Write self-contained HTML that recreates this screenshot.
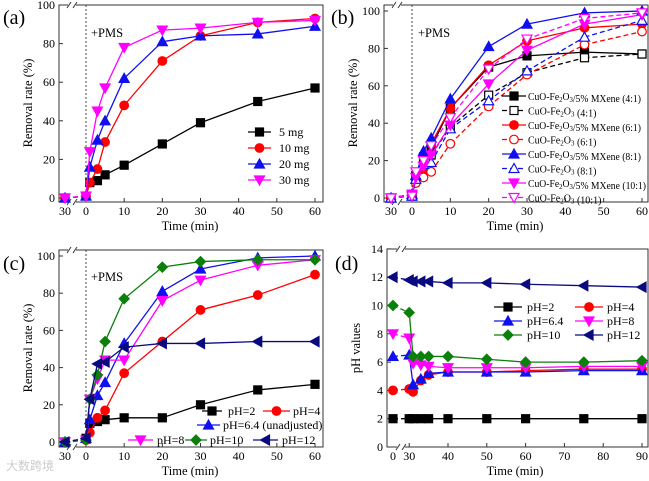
<!DOCTYPE html>
<html><head><meta charset="utf-8">
<style>
html,body{margin:0;padding:0;background:#fff;}
svg{display:block;font-family:"Liberation Serif",serif;}
</style></head>
<body>
<svg id="fig" width="649" height="481" viewBox="0 0 649 481" xmlns="http://www.w3.org/2000/svg"></svg>
<script>
// ---- data ----
const timesABC = [-30, 0, 1, 3, 5, 10, 20, 30, 45, 60];
const timesD = [0, 30, 31, 33, 35, 40, 50, 60, 75, 90];

const aLabels = ["5 mg", "10 mg", "20 mg", "30 mg"];
const a5mg = [0, 1, 8, 9, 12, 17, 28, 39, 50, 57];
const a10mg = [0, 1, 8, 15, 29, 48, 71, 84, 91, 93];
const a20mg = [0, 1, 16, 30, 40, 62, 81, 84, 85, 89];
const a30mg = [0, 1, 24, 45, 57, 78, 87, 88, 91, 92];

const bLabels = ["CuO-Fe2O3/5% MXene (4:1)", "CuO-Fe2O3 (4:1)", "CuO-Fe2O3/5% MXene (6:1)", "CuO-Fe2O3 (6:1)", "CuO-Fe2O3/5% MXene (8:1)", "CuO-Fe2O3 (8:1)", "CuO-Fe2O3/5% MXene (10:1)", "CuO-Fe2O3 (10:1)"];
const bMx41 = [0, 2, 12, 22, 27, 48, 70, 76, 78, 77];
const b41 = [0, 1, 10, 17, 23, 38, 55, 67, 75, 77];
const bMx61 = [0, 2, 11, 15, 29, 48, 71, 84, 91, 93];
const b61 = [0, 1, 8, 11, 14, 29, 49, 66, 82, 89];
const bMx81 = [0, 2, 12, 25, 32, 53, 81, 93, 99, 100];
const b81 = [0, 1, 10, 18, 19, 37, 52, 68, 86, 95];
const bMx101 = [0, 2, 11, 17, 23, 39, 61, 79, 93, 98];
const b101 = [0, 1, 14, 20, 28, 43, 69, 85, 96, 99];

const cPH2 = [0, 2, 10, 11, 12, 13, 13, 20, 28, 31];
const cPH4 = [0, 1, 5, 13, 17, 37, 54, 71, 79, 90];
const cPH64 = [0, 2, 12, 25, 32, 53, 81, 93, 99, 100];
const cPH8 = [0, 1, 23, 34, 44, 44, 76, 87, 95, 98];
const cPH10 = [0, 1, 23, 36, 54, 77, 94, 97, 98, 98];
const cPH12 = [0, 2, 23, 42, 43, 51, 53, 53, 54, 54];

const dPH2 = [2, 2, 2, 2, 2, 2, 2, 2, 2, 2];
const dPH4 = [4, 4.1, 3.9, 4.7, 5.1, 5.3, 5.3, 5.4, 5.5, 5.5];
const dPH64 = [6.4, 6.5, 4.4, 4.8, 5.2, 5.3, 5.3, 5.3, 5.4, 5.4];
const dPH8 = [8, 7.7, 5.9, 5.8, 5.7, 5.6, 5.6, 5.6, 5.7, 5.7];
const dPH10 = [10, 9.5, 6.4, 6.4, 6.4, 6.4, 6.2, 6.0, 6.0, 6.1];
const dPH12 = [12, 11.8, 11.7, 11.7, 11.7, 11.6, 11.6, 11.5, 11.4, 11.3];

const tickRemoval = [0, 20, 40, 60, 80, 100];
const tickTimeABC = [0, 10, 20, 30, 40, 50, 60];
const tickPH = [0, 2, 4, 6, 8, 10, 12, 14];
const tickTimeD = [30, 40, 50, 60, 70, 80, 90];

// ---- drawing ----
const NS = "http://www.w3.org/2000/svg";
const svg = document.getElementById("fig");
function el(tag, attrs, parent) {
  const e = document.createElementNS(NS, tag);
  for (const k in attrs) e.setAttribute(k, attrs[k]);
  (parent || svg).appendChild(e);
  return e;
}
function marker(g, type, x, y, color, open) {
  const s = 4;
  const fill = open ? "#fff" : color;
  let m;
  if (type === "sq") m = el("rect", {x: x - s, y: y - s, width: 2 * s, height: 2 * s, fill: fill, stroke: color, "stroke-width": 1.2}, g);
  else if (type === "ci") m = el("circle", {cx: x, cy: y, r: s + 0.3, fill: fill, stroke: color, "stroke-width": 1.2}, g);
  else {
    let p;
    if (type === "up") p = [[x, y - s - 1], [x - s - 1, y + s], [x + s + 1, y + s]];
    if (type === "dn") p = [[x, y + s + 1], [x - s - 1, y - s], [x + s + 1, y - s]];
    if (type === "di") p = [[x, y - s - 1], [x + s + 1, y], [x, y + s + 1], [x - s - 1, y]];
    if (type === "lt") p = [[x - s - 1, y], [x + s, y - s - 1], [x + s, y + s + 1]];
    m = el("polygon", {points: p.map(q => q.join(",")).join(" "), fill: fill, stroke: color, "stroke-width": 1.2}, g);
  }
  
  
}
function series(g, times, vals, xf, yf, color, type, open, dashAll, name) {
  const sg = el("g", {}, g);
  
  
  for (let i = 0; i < times.length - 1; i++) {
    const dashed = dashAll || i === 0;
    el("line", {x1: xf(times[i]), y1: yf(vals[i]), x2: xf(times[i + 1]), y2: yf(vals[i + 1]), stroke: color, "stroke-width": 1.3, "stroke-dasharray": dashed ? "5,3" : "none"}, sg);
  }
  for (let i = 0; i < times.length; i++) marker(sg, type, xf(times[i]), yf(vals[i]), color, open);
}
function text(g, x, y, s, size, anchor, name, extra) {
  const t = el("text", Object.assign({x: x, y: y, "font-size": size, "text-anchor": anchor || "start", fill: "#000"}, extra || {}), g);
  t.innerHTML = s;
  
  
  return t;
}
function frame(g, L, T, R, B, brk) {
  el("rect", {x: L, y: T, width: R - L, height: B - T, fill: "none", stroke: "#333", "stroke-width": 1}, g);
  for (const yy of [T, B]) {
    el("rect", {x: brk - 4, y: yy - 3, width: 8, height: 6, fill: "#fff"}, g);
    el("line", {x1: brk - 5, y1: yy + 3, x2: brk - 1, y2: yy - 3, stroke: "#333"}, g);
    el("line", {x1: brk + 1, y1: yy + 3, x2: brk + 5, y2: yy - 3, stroke: "#333"}, g);
  }
}
function yAxis(g, L, ticks, yf, title, cy) {
  for (const v of ticks) {
    el("line", {x1: L, y1: yf(v), x2: L + 4, y2: yf(v), stroke: "#333"}, g);
    text(g, L - 4, yf(v) + 4, String(v), 12, "end", "y-tick-label");
  }
  text(g, 0, 0, title, 12.5, "middle", "y-axis-title", {transform: "translate(" + (L - 27) + "," + cy + ") rotate(-90)"});
}
function xAxis(g, B, ticks, xf, pre, title, cx) {
  for (const v of ticks) {
    el("line", {x1: xf(v), y1: B, x2: xf(v), y2: B - 4, stroke: "#333"}, g);
    text(g, xf(v), B + 13, String(v), 12, "middle", "x-tick-label");
  }
  for (const p of pre) text(g, p[0], B + 13, p[1], 12, "middle", "x-tick-label");
  text(g, cx, B + 28, "Time (min)", 12.5, "middle", "x-axis-title");
}
function legendEntry(g, x1, x2, y, color, type, open, dashed, label, tx, fs, extra) {
  const lg = el("g", {}, g);
  
  
  el("line", {x1: x1, y1: y, x2: x2, y2: y, stroke: color, "stroke-width": 1.3, "stroke-dasharray": dashed ? "5,3" : "none"}, lg);
  marker(lg, type, (x1 + x2) / 2, y, color, open);
  text(lg, tx, y + 4, label, fs || 12, "start", "legend-label", extra);
}
const K = "#000", R = "#f00", B = "#1010ee", M = "#f0f", G = "#0a800a", N = "#0a0a80";

// ---------- panel a ----------
(function () {
  const g = el("g", {});  
  const L = 59, T = 5, Rr = 323, Bt = 202;
  const xf = t => t < -1 ? 65 : 86 + t * (315 - 86) / 60;
  const yf = v => 198 - v * 1.93;
  frame(g, L, T, Rr, Bt, 72);
  el("line", {x1: 86, y1: T, x2: 86, y2: Bt, stroke: "#444", "stroke-dasharray": "2,2"}, g);
  yAxis(g, L, tickRemoval, yf, "Removal rate (%)", 103);
  xAxis(g, Bt, tickTimeABC, xf, [[65, "30"]], "Time (min)", 190);
  text(g, 91, 37, "+PMS", 12.5, "start", "pms-annotation");
  text(g, 3, 24, "(a)", 20, "start", "panel-label-a");
  series(g, timesABC, a5mg, xf, yf, K, "sq", false, false, "series-5mg");
  series(g, timesABC, a10mg, xf, yf, R, "ci", false, false, "series-10mg");
  series(g, timesABC, a20mg, xf, yf, B, "up", false, false, "series-20mg");
  series(g, timesABC, a30mg, xf, yf, M, "dn", false, false, "series-30mg");
  legendEntry(g, 248, 271, 132, K, "sq", false, false, aLabels[0], 279);
  legendEntry(g, 248, 271, 148, R, "ci", false, false, aLabels[1], 279);
  legendEntry(g, 248, 271, 164, B, "up", false, false, aLabels[2], 279);
  legendEntry(g, 248, 271, 180, M, "dn", false, false, aLabels[3], 279);
})();

// ---------- panel b ----------
(function () {
  const g = el("g", {});  
  const L = 384, T = 5, Rr = 648, Bt = 202;
  const xf = t => t < -1 ? 391 : 412 + t * (642 - 412) / 60;
  const yf = v => 198 - v * 1.87;
  frame(g, L, T, Rr, Bt, 397);
  el("line", {x1: 412, y1: T, x2: 412, y2: Bt, stroke: "#444", "stroke-dasharray": "2,2"}, g);
  yAxis(g, L, tickRemoval, yf, "Removal rate (%)", 103);
  xAxis(g, Bt, tickTimeABC, xf, [[391, "30"]], "Time (min)", 515);
  text(g, 418, 37, "+PMS", 12.5, "start", "pms-annotation");
  text(g, 331, 24, "(b)", 20, "start", "panel-label-b");
  const sets = [[bMx41, K, "sq", false], [b41, K, "sq", true], [bMx61, R, "ci", false], [b61, R, "ci", true], [bMx81, B, "up", false], [b81, B, "up", true], [bMx101, M, "dn", false], [b101, M, "dn", true]];
  sets.forEach((s, i) => series(g, timesABC, s[0], xf, yf, s[1], s[2], s[3], s[3], "series-" + i));
  sets.forEach((s, i) => {
    const lbl = bLabels[i].replace("Fe2O3", "Fe<tspan font-size='7' dy='2'>2</tspan><tspan dy='-2'>O</tspan><tspan font-size='7' dy='2'>3</tspan><tspan dy='-2'></tspan>");
    const long = bLabels[i].indexOf("MXene") >= 0;
    const extra = long ? {textLength: i === 6 ? 118 : 113, lengthAdjust: "spacingAndGlyphs"} : {};
    legendEntry(g, 502, 526, 96 + i * 14.5, s[1], s[2], s[3], s[3], lbl, 528, 10, extra);
  });
})();

// ---------- panel c ----------
(function () {
  const g = el("g", {});  
  const L = 59, T = 250, Rr = 323, Bt = 447;
  const xf = t => t < -1 ? 65 : 86 + t * (315 - 86) / 60;
  const yf = v => 442 - v * 1.86;
  frame(g, L, T, Rr, Bt, 72);
  el("line", {x1: 86, y1: T, x2: 86, y2: Bt, stroke: "#444", "stroke-dasharray": "2,2"}, g);
  yAxis(g, L, tickRemoval, yf, "Removal rate (%)", 348);
  xAxis(g, Bt, tickTimeABC, xf, [[65, "30"]], "Time (min)", 190);
  text(g, 91, 281, "+PMS", 12.5, "start", "pms-annotation");
  text(g, 3, 270, "(c)", 20, "start", "panel-label-c");
  series(g, timesABC, cPH2, xf, yf, K, "sq", false, false, "series-ph2");
  series(g, timesABC, cPH4, xf, yf, R, "ci", false, false, "series-ph4");
  series(g, timesABC, cPH64, xf, yf, B, "up", false, false, "series-ph6-4");
  series(g, timesABC, cPH8, xf, yf, M, "dn", false, false, "series-ph8");
  series(g, timesABC, cPH10, xf, yf, G, "di", false, false, "series-ph10");
  series(g, timesABC, cPH12, xf, yf, N, "lt", false, false, "series-ph12");
  legendEntry(g, 202, 222, 411, K, "sq", false, false, "pH=2", 228);
  legendEntry(g, 263, 290, 411, R, "ci", false, false, "pH=4", 293);
  legendEntry(g, 197, 220, 425, B, "up", false, false, "pH=6.4 (unadjusted)", 223);
  legendEntry(g, 128, 153, 440, M, "dn", false, false, "pH=8", 157);
  legendEntry(g, 185, 207, 440, G, "di", false, false, "pH=10", 210);
  legendEntry(g, 253, 278, 440, N, "lt", false, false, "pH=12", 282);
  text(g, 6, 470, "大数跨境", 12, "start", "watermark", {fill: "#ccc", "font-family": "'Noto Sans CJK SC',sans-serif"});
})();

// ---------- panel d ----------
(function () {
  const g = el("g", {});  
  const L = 387, T = 249, Rr = 648, Bt = 447;
  const xf = t => t < 1 ? 393 : 448 + (t - 40) * 3.88;
  const yf = v => 447 - v * 14.15;
  frame(g, L, T, Rr, Bt, 401);
  yAxis(g, L, tickPH, yf, "pH values", 348);
  xAxis(g, Bt, tickTimeD, xf, [[393, "0"]], "Time (min)", 515);
  text(g, 335, 270, "(d)", 20, "start", "panel-label-d");
  series(g, timesD, dPH2, xf, yf, K, "sq", false, false, "series-ph2");
  series(g, timesD, dPH4, xf, yf, R, "ci", false, false, "series-ph4");
  series(g, timesD, dPH64, xf, yf, B, "up", false, false, "series-ph6-4");
  series(g, timesD, dPH8, xf, yf, M, "dn", false, false, "series-ph8");
  series(g, timesD, dPH10, xf, yf, G, "di", false, false, "series-ph10");
  series(g, timesD, dPH12, xf, yf, N, "lt", false, false, "series-ph12");
  legendEntry(g, 494, 522, 307, K, "sq", false, false, "pH=2", 527);
  legendEntry(g, 575, 603, 307, R, "ci", false, false, "pH=4", 607);
  legendEntry(g, 494, 522, 321, B, "up", false, false, "pH=6.4", 527);
  legendEntry(g, 575, 603, 321, M, "dn", false, false, "pH=8", 607);
  legendEntry(g, 494, 522, 335, G, "di", false, false, "pH=10", 527);
  legendEntry(g, 575, 603, 335, N, "lt", false, false, "pH=12", 607);
})();
</script>
</body></html>
